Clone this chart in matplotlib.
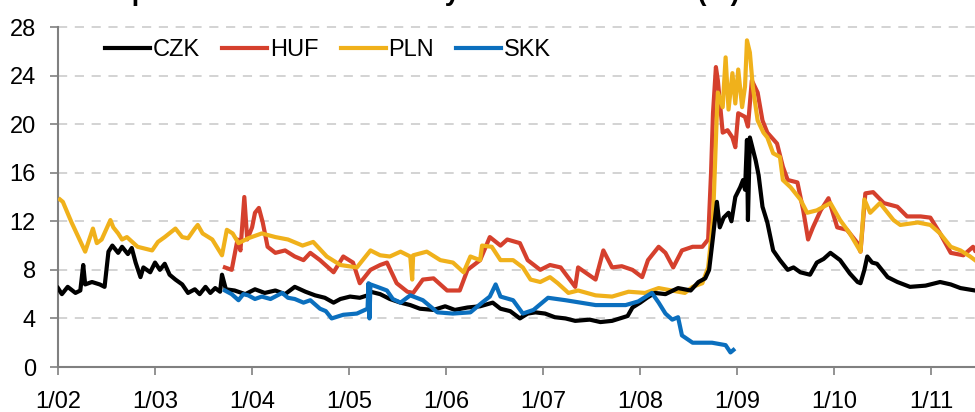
import matplotlib
matplotlib.use('Agg')
import matplotlib.pyplot as plt

plt.rcParams['font.family'] = ['Liberation Sans', 'DejaVu Sans']

# Time axis in decimal years, values in percent.
czk_t = [2002.00, 2002.04, 2002.10, 2002.18, 2002.23, 2002.26, 2002.28, 2002.35, 2002.43, 2002.48,
         2002.52, 2002.56, 2002.62, 2002.66, 2002.72, 2002.76, 2002.80, 2002.85, 2002.88, 2002.95,
         2003.00, 2003.05, 2003.10, 2003.15, 2003.21, 2003.28, 2003.34, 2003.41, 2003.46, 2003.52,
         2003.57, 2003.62, 2003.67, 2003.69, 2003.73, 2003.82, 2003.93, 2004.03, 2004.13, 2004.24,
         2004.34, 2004.44, 2004.55, 2004.65, 2004.75, 2004.84, 2004.91, 2005.01, 2005.11, 2005.19,
         2005.22, 2005.32, 2005.42, 2005.53, 2005.63, 2005.73, 2005.87, 2005.99, 2006.09, 2006.22,
         2006.35, 2006.48, 2006.56, 2006.66, 2006.76, 2006.84, 2006.92, 2007.02, 2007.12, 2007.23,
         2007.33, 2007.48, 2007.59, 2007.71, 2007.79, 2007.87, 2007.92, 2008.00, 2008.07, 2008.15,
         2008.26, 2008.39, 2008.52, 2008.60, 2008.67, 2008.71, 2008.75, 2008.79, 2008.82, 2008.86,
         2008.91, 2008.94, 2008.98, 2009.03, 2009.06, 2009.08, 2009.10, 2009.11, 2009.13, 2009.19,
         2009.22, 2009.26, 2009.31, 2009.37, 2009.44, 2009.52, 2009.58, 2009.65, 2009.75, 2009.82,
         2009.89, 2009.96, 2010.06, 2010.16, 2010.24, 2010.27, 2010.31, 2010.34, 2010.39, 2010.44,
         2010.55, 2010.65, 2010.78, 2010.94, 2011.09, 2011.20, 2011.30, 2011.45]
czk_v = [6.5, 6.0, 6.6, 6.1, 6.3, 8.4, 6.8, 7.0, 6.8, 6.6,
         9.5, 10.0, 9.4, 9.9, 9.3, 9.8, 8.6, 7.4, 8.2, 7.8,
         8.6, 8.0, 8.5, 7.6, 7.2, 6.8, 6.1, 6.4, 6.0, 6.6,
         6.1, 6.5, 6.2, 7.6, 6.4, 6.3, 6.0, 6.4, 6.1, 6.3,
         6.0, 6.6, 6.2, 5.9, 5.7, 5.3, 5.6, 5.8, 5.7, 5.9,
         6.2, 6.0, 5.6, 5.3, 5.1, 4.8, 4.7, 5.0, 4.7, 4.9,
         5.0, 5.3, 4.8, 4.6, 4.0, 4.4, 4.5, 4.4, 4.1, 4.0,
         3.8, 3.9, 3.7, 3.8, 4.0, 4.2, 4.9, 5.3, 5.7, 6.1,
         6.0, 6.5, 6.3, 7.0, 7.3, 8.0, 10.7, 13.6, 11.5, 12.3,
         12.7, 12.0, 14.0, 14.8, 15.4, 14.6, 18.7, 12.1, 18.9, 17.0,
         15.8, 13.2, 11.9, 9.6, 8.8, 8.0, 8.2, 7.8, 7.6, 8.6,
         8.9, 9.4, 8.8, 7.7, 7.0, 6.9, 8.0, 9.1, 8.6, 8.5,
         7.4, 7.0, 6.6, 6.7, 7.0, 6.8, 6.5, 6.3]

huf_t = [2003.72, 2003.79, 2003.85, 2003.88, 2003.92, 2003.95, 2004.00, 2004.03, 2004.07, 2004.11,
         2004.16, 2004.24, 2004.34, 2004.44, 2004.53, 2004.60, 2004.70, 2004.84, 2004.94, 2005.04,
         2005.11, 2005.22, 2005.32, 2005.39, 2005.49, 2005.60, 2005.66, 2005.76, 2005.87, 2006.01,
         2006.14, 2006.22, 2006.35, 2006.45, 2006.56, 2006.63, 2006.76, 2006.84, 2006.97, 2007.07,
         2007.18, 2007.33, 2007.36, 2007.54, 2007.62, 2007.71, 2007.81, 2007.92, 2008.02, 2008.08,
         2008.19, 2008.26, 2008.34, 2008.43, 2008.54, 2008.64, 2008.70, 2008.73, 2008.75, 2008.78,
         2008.80, 2008.85, 2008.90, 2008.95, 2008.98, 2009.01, 2009.08, 2009.11, 2009.15, 2009.21,
         2009.26, 2009.31, 2009.41, 2009.47, 2009.52, 2009.62, 2009.68, 2009.73, 2009.78, 2009.86,
         2009.94, 2010.03, 2010.13, 2010.24, 2010.27, 2010.32, 2010.40, 2010.51, 2010.65, 2010.75,
         2010.89, 2010.99, 2011.09, 2011.20, 2011.33, 2011.43, 2011.45]
huf_v = [8.2, 8.0, 10.5, 9.6, 14.0, 10.5, 11.5, 12.7, 13.1, 11.9,
         9.9, 9.4, 9.6, 9.1, 8.8, 9.4, 8.8, 7.8, 9.1, 8.6,
         6.9, 8.0, 8.4, 8.6, 6.9, 6.2, 6.1, 7.2, 7.3, 6.3,
         6.3, 8.0, 8.8, 10.7, 10.0, 10.5, 10.2, 8.8, 8.0, 8.4,
         8.2, 6.6, 8.2, 7.2, 9.6, 8.2, 8.3, 8.0, 7.4, 8.8,
         9.9, 9.4, 8.2, 9.6, 9.9, 9.9, 10.5, 16.0, 20.9, 24.7,
         23.6, 19.3, 19.5, 18.9, 18.1, 20.9, 20.6, 19.8, 23.6, 22.6,
         20.3, 19.3, 18.4, 16.5, 15.4, 15.2, 12.9, 10.5, 11.5, 12.9,
         13.9, 11.5, 11.3, 10.2, 9.5, 14.3, 14.4, 13.5, 13.2, 12.4,
         12.4, 12.3, 11.0, 9.4, 9.2, 9.9, 9.6]

pln_t = [2002.02, 2002.05, 2002.14, 2002.28, 2002.36, 2002.40, 2002.45, 2002.54, 2002.57, 2002.62,
         2002.66, 2002.71, 2002.82, 2002.97, 2003.03, 2003.10, 2003.21, 2003.28, 2003.34, 2003.41,
         2003.44, 2003.49, 2003.59, 2003.69, 2003.74, 2003.80, 2003.86, 2003.96, 2004.10, 2004.24,
         2004.37, 2004.52, 2004.63, 2004.77, 2004.91, 2005.08, 2005.22, 2005.32, 2005.42, 2005.53,
         2005.63, 2005.65, 2005.66, 2005.80, 2005.94, 2006.07, 2006.18, 2006.25, 2006.35, 2006.37,
         2006.47, 2006.56, 2006.69, 2006.79, 2006.87, 2006.97, 2007.07, 2007.15, 2007.26, 2007.36,
         2007.54, 2007.71, 2007.88, 2008.05, 2008.19, 2008.46, 2008.54, 2008.64, 2008.70, 2008.75,
         2008.79, 2008.80, 2008.85, 2008.88, 2008.91, 2008.95, 2008.98, 2009.01, 2009.05, 2009.08,
         2009.10, 2009.13, 2009.16, 2009.21, 2009.27, 2009.31, 2009.37, 2009.44, 2009.47, 2009.55,
         2009.65, 2009.72, 2009.82, 2009.96, 2010.06, 2010.16, 2010.27, 2010.31, 2010.37, 2010.47,
         2010.61, 2010.68, 2010.86, 2010.99, 2011.09, 2011.20, 2011.30, 2011.40, 2011.45]
pln_v = [13.8, 13.6, 11.9, 9.5, 11.4, 10.2, 10.5, 12.1, 11.5, 11.0,
         10.5, 10.7, 9.9, 9.6, 10.3, 10.7, 11.4, 10.7, 10.6, 11.4,
         11.7, 11.0, 10.5, 9.2, 11.3, 11.0, 10.2, 10.6, 11.0, 10.7,
         10.5, 10.0, 10.3, 9.1, 8.4, 8.2, 9.6, 9.2, 9.1, 9.5,
         9.1, 7.2, 9.2, 9.5, 8.8, 8.6, 7.8, 9.1, 8.8, 10.0,
         9.9, 8.8, 8.8, 8.2, 7.2, 7.0, 7.4, 6.9, 6.1, 6.3,
         5.9, 5.8, 6.2, 6.1, 6.5, 6.1, 6.6, 6.9, 8.2, 12.1,
         20.9, 22.6, 21.4, 25.5, 21.2, 24.2, 21.7, 24.5, 21.4, 23.1,
         26.9, 25.9, 23.1, 20.3, 19.3, 18.9, 17.6, 17.3, 15.4, 14.8,
         13.8, 12.7, 12.9, 13.5, 12.1, 11.0, 9.5, 13.8, 12.7, 13.5,
         12.1, 11.7, 11.9, 11.7, 11.0, 9.9, 9.6, 9.1, 8.8]

skk_t = [2003.72, 2003.79, 2003.86, 2003.91, 2003.96, 2004.03, 2004.10, 2004.19, 2004.31, 2004.37,
         2004.44, 2004.53, 2004.60, 2004.70, 2004.76, 2004.82, 2004.94, 2005.08, 2005.19, 2005.20,
         2005.21, 2005.22, 2005.29, 2005.39, 2005.45, 2005.53, 2005.63, 2005.76, 2005.91, 2006.07,
         2006.25, 2006.37, 2006.45, 2006.51, 2006.56, 2006.69, 2006.79, 2006.90, 2007.05, 2007.23,
         2007.54, 2007.85, 2007.98, 2008.12, 2008.19, 2008.26, 2008.33, 2008.39, 2008.43, 2008.54,
         2008.74, 2008.88, 2008.93, 2008.96]
skk_v = [6.3, 6.0, 5.5, 6.0, 5.9, 5.6, 5.8, 5.6, 6.1, 5.7,
         5.6, 5.3, 5.5, 4.8, 4.6, 4.0, 4.3, 4.4, 4.8, 6.9,
         4.0, 6.8, 6.6, 6.3, 5.6, 5.3, 5.9, 5.5, 4.5, 4.4,
         4.5, 5.3, 5.8, 6.8, 5.8, 5.5, 4.4, 4.7, 5.7, 5.5,
         5.1, 5.1, 5.4, 6.1, 5.3, 4.4, 3.9, 4.1, 2.6, 2.0,
         2.0, 1.8, 1.2, 1.4]

year_ticks = [2002, 2003, 2004, 2005, 2006, 2007, 2008, 2009, 2010, 2011]
year_labels = ['1/02', '1/03', '1/04', '1/05', '1/06', '1/07', '1/08', '1/09', '1/10', '1/11']
y_ticks = [0, 4, 8, 12, 16, 20, 24, 28]

fig = plt.figure(figsize=(9.75, 4.12), dpi=100)
ax = fig.add_axes([58/975, 45/412, 1 - 58/975, 340/412])

lw = 3.0
ax.plot(czk_t, czk_v, color='black', lw=lw, label='CZK', zorder=4)
ax.plot(huf_t, huf_v, color='#D5402D', lw=lw, label='HUF', zorder=2)
ax.plot(pln_t, pln_v, color='#F0B11B', lw=lw, label='PLN', zorder=3)
ax.plot(skk_t, skk_v, color='#0B6FBE', lw=lw, label='SKK', zorder=5)

ax.set_xlim(2002.0, 2011.45)
ax.set_ylim(0, 28)
ax.set_xticks(year_ticks)
ax.set_xticklabels(year_labels, fontsize=17)
ax.set_yticks(y_ticks)
ax.set_yticklabels(y_ticks, fontsize=17)
ax.tick_params(axis='both', direction='out', length=6, width=1.2, color='#808080')
ax.tick_params(axis='x', pad=11)
ax.tick_params(axis='y', pad=10)

for y in y_ticks[1:]:
    ax.axhline(y, color='#C8C8C8', lw=1.1, ls=(0, (6, 5)), zorder=1, clip_on=False)

for side in ['top', 'right']:
    ax.spines[side].set_visible(False)
for side in ['left', 'bottom']:
    ax.spines[side].set_color('#808080')
    ax.spines[side].set_linewidth(1.5)

ax.legend(loc='center left', bbox_to_anchor=(0.051, 0.933), ncol=4, frameon=False,
          fontsize=17, handlelength=1.9, handletextpad=0.12, columnspacing=0.95,
          borderaxespad=0, borderpad=0)

# Title sits above the visible area; only its descenders show.
fig.text(100/975, 1.0, 'Implied one-month volatility vis-à-vis the euro (%)',
         fontsize=19.5, fontweight='bold', ha='left', va='baseline')

fig.savefig('out.png', dpi=100)
